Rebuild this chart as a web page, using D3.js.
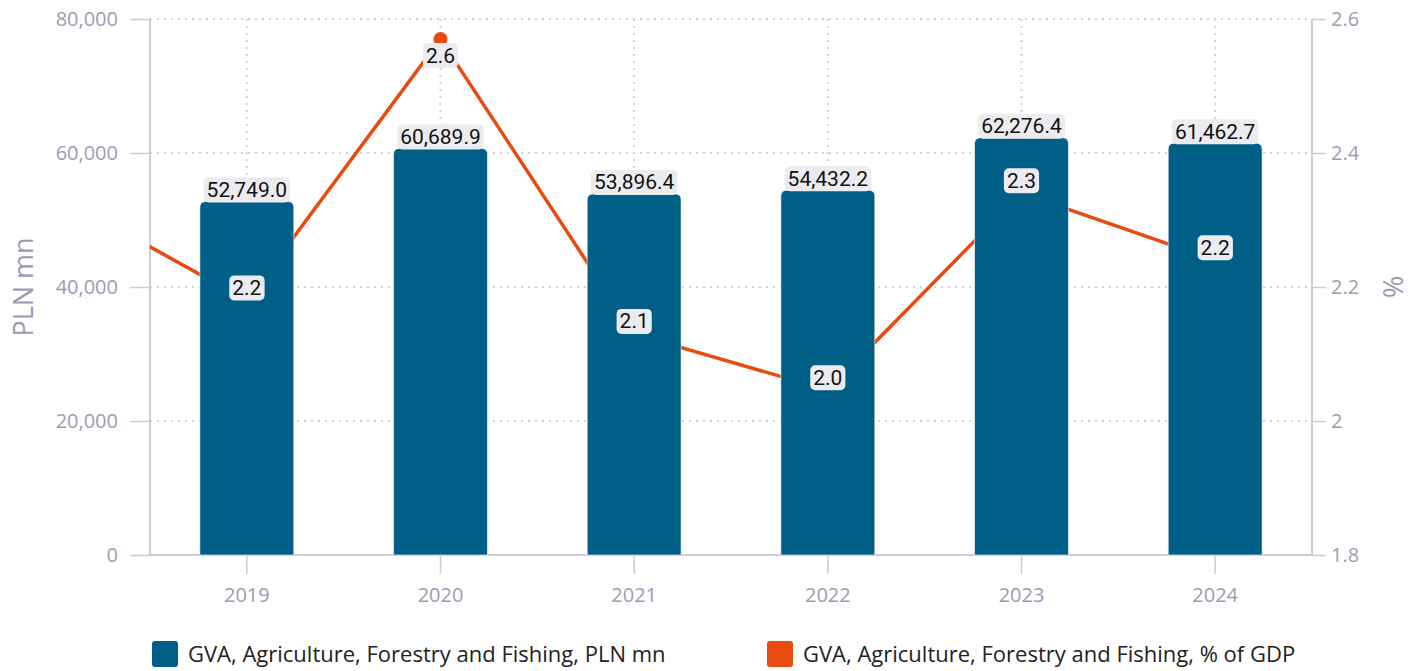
<!DOCTYPE html>
<html>
<head>
<meta charset="utf-8">
<script src="https://cdn.jsdelivr.net/npm/d3@7"></script>
<style>
  html, body { margin: 0; padding: 0; background: #fff; }
  svg { display: block; }
</style>
</head>
<body>
<svg id="chart" width="1420" height="671"></svg>
<script>
// ---- data ----
const years = ["2019", "2020", "2021", "2022", "2023", "2024"];
const gvaPln = [52749.0, 60689.9, 53896.4, 54432.2, 62276.4, 61462.7];
const gvaPct = [2.18, 2.57, 2.13, 2.046, 2.34, 2.24];
// preceding year, only used so the line enters from the left edge
const priorYear = "2018";
const priorPct = 2.34;
const leftTicks = [0, 20000, 40000, 60000, 80000];
const rightTicks = [1.8, 2.0, 2.2, 2.4, 2.6];
const seriesNames = [
  "GVA, Agriculture, Forestry and Fishing, PLN mn",
  "GVA, Agriculture, Forestry and Fishing, % of GDP"
];

// ---- styling ----
const BAR = "#005f87";
const LINE = "#e84a0f";
const AXIS = "#ccccd8";
const TICKTXT = "#9d9bb2";
const GRID = "#d2d2da";
const LABELBG = "#ececf0";
const tickFont = "'Open Sans', 'Noto Sans', sans-serif";
const labelFont = "Roboto, sans-serif";

const svg = d3.select("#chart");
const plot = { left: 150, right: 1312, top: 19, bottom: 555 };

const x = d3.scaleBand().domain(years).range([plot.left, plot.right]).paddingInner(0.515).paddingOuter(0.2575);
const step = x.step();
const cx = d => x(d) + x.bandwidth() / 2;
const yL = d3.scaleLinear().domain([0, 80000]).range([plot.bottom, plot.top]);
const yR = d3.scaleLinear().domain([1.8, 2.6]).range([plot.bottom, plot.top]);

// ---- grid ----
const grid = svg.append("g");
grid.selectAll("line.h").data(leftTicks.filter(t => t > 0)).join("line")
  .attr("x1", plot.left).attr("x2", plot.right)
  .attr("y1", d => yL(d)).attr("y2", d => yL(d))
  .attr("stroke", GRID).attr("stroke-width", 2).attr("stroke-dasharray", "2,5");
grid.selectAll("line.v").data(years).join("line")
  .attr("x1", d => cx(d)).attr("x2", d => cx(d))
  .attr("y1", plot.top).attr("y2", plot.bottom)
  .attr("stroke", GRID).attr("stroke-width", 2).attr("stroke-dasharray", "2,5");

// ---- axes ----
const axL = svg.append("g").attr("transform", `translate(${plot.left},0)`)
  .call(d3.axisLeft(yL).tickValues(leftTicks).tickFormat(d3.format(",")).tickSize(20).tickPadding(12));
const axR = svg.append("g").attr("transform", `translate(${plot.right},0)`)
  .call(d3.axisRight(yR).tickValues(rightTicks).tickFormat(d => d === 2 ? "2" : d3.format(".1f")(d)).tickSize(14).tickPadding(5));
const axB = svg.append("g").attr("transform", `translate(0,${plot.bottom})`)
  .call(d3.axisBottom(x).tickSize(19).tickPadding(14));
[axL, axR, axB].forEach(g => {
  g.select(".domain").attr("stroke", AXIS).attr("stroke-width", 2);
  g.selectAll(".tick line").attr("stroke", AXIS).attr("stroke-width", 1.5);
  g.selectAll(".tick text").attr("fill", TICKTXT).attr("font-family", tickFont).attr("font-size", 20);
});
axL.select(".domain").attr("d", `M0,${plot.top}V${plot.bottom}`);
axR.select(".domain").attr("d", `M0,${plot.top}V${plot.bottom}`);
axB.select(".domain").attr("d", `M${plot.left},0H${plot.right}`);

svg.append("text").text("PLN mn")
  .attr("transform", `translate(33,${(plot.top + plot.bottom) / 2}) rotate(-90)`)
  .attr("text-anchor", "middle").attr("fill", TICKTXT)
  .attr("font-family", tickFont).attr("font-size", 27);
svg.append("text").text("%")
  .attr("transform", `translate(1383,${(plot.top + plot.bottom) / 2}) rotate(90)`)
  .attr("text-anchor", "middle").attr("fill", TICKTXT)
  .attr("font-family", tickFont).attr("font-size", 27);

// ---- line (behind the bars) ----
svg.append("clipPath").attr("id", "plotclip").append("rect")
  .attr("x", plot.left).attr("y", 0).attr("width", plot.right - plot.left).attr("height", plot.bottom);
const linePts = [[cx(years[0]) - step, yR(priorPct)]]
  .concat(years.map((yr, i) => [cx(yr), yR(gvaPct[i])]));
svg.append("path").attr("clip-path", "url(#plotclip)")
  .attr("d", d3.line()(linePts))
  .attr("fill", "none").attr("stroke", LINE).attr("stroke-width", 3.5).attr("stroke-linejoin", "round");
svg.selectAll("circle.pt").data(years).join("circle")
  .attr("cx", d => cx(d)).attr("cy", (d, i) => yR(gvaPct[i])).attr("r", 7).attr("fill", LINE);

// ---- bars, rounded top corners ----
const r = 6;
svg.selectAll("path.bar").data(years).join("path")
  .attr("d", (d, i) => {
    const x0 = x(d), w = x.bandwidth(), y0 = yL(gvaPln[i]), y1 = yL(0);
    return `M${x0},${y1}V${y0 + r}Q${x0},${y0} ${x0 + r},${y0}H${x0 + w - r}Q${x0 + w},${y0} ${x0 + w},${y0 + r}V${y1}Z`;
  })
  .attr("fill", BAR).attr("stroke", "#ffffff").attr("stroke-width", 0.6);

// ---- data labels ----
function label(g, txt, xc, yc) {
  const t = g.append("text").text(txt)
    .attr("x", xc).attr("y", yc).attr("dy", "0.36em")
    .attr("text-anchor", "middle").attr("fill", "#111")
    .attr("font-family", labelFont).attr("font-size", 21);
  const bb = t.node().getBBox();
  g.insert("rect", "text")
    .attr("x", bb.x - 3).attr("y", yc - 12).attr("width", bb.width + 6).attr("height", 25)
    .attr("rx", 5).attr("fill", LABELBG);
}
const labels = svg.append("g");
years.forEach((yr, i) => {
  label(labels.append("g"), d3.format(",.1f")(gvaPln[i]), cx(yr), yL(gvaPln[i]) - 12);
});
years.forEach((yr, i) => {
  const py = yR(gvaPct[i]);
  let yc = py - 13;
  if (yc - 12 < plot.top) yc = py + 16;
  label(labels.append("g"), d3.format(".1f")(gvaPct[i]), cx(yr), yc);
});

// ---- legend ----
const legend = svg.append("g");
const legendItems = [
  { name: seriesNames[0], color: BAR, x: 152 },
  { name: seriesNames[1], color: LINE, x: 767 }
];
legendItems.forEach(it => {
  legend.append("rect").attr("x", it.x).attr("y", 641).attr("width", 26).attr("height", 26)
    .attr("rx", 3).attr("fill", it.color);
  legend.append("text").text(it.name).attr("x", it.x + 36).attr("y", 654).attr("dy", "0.35em")
    .attr("fill", "#222").attr("font-family", tickFont).attr("font-size", 22);
});
</script>
</body>
</html>
